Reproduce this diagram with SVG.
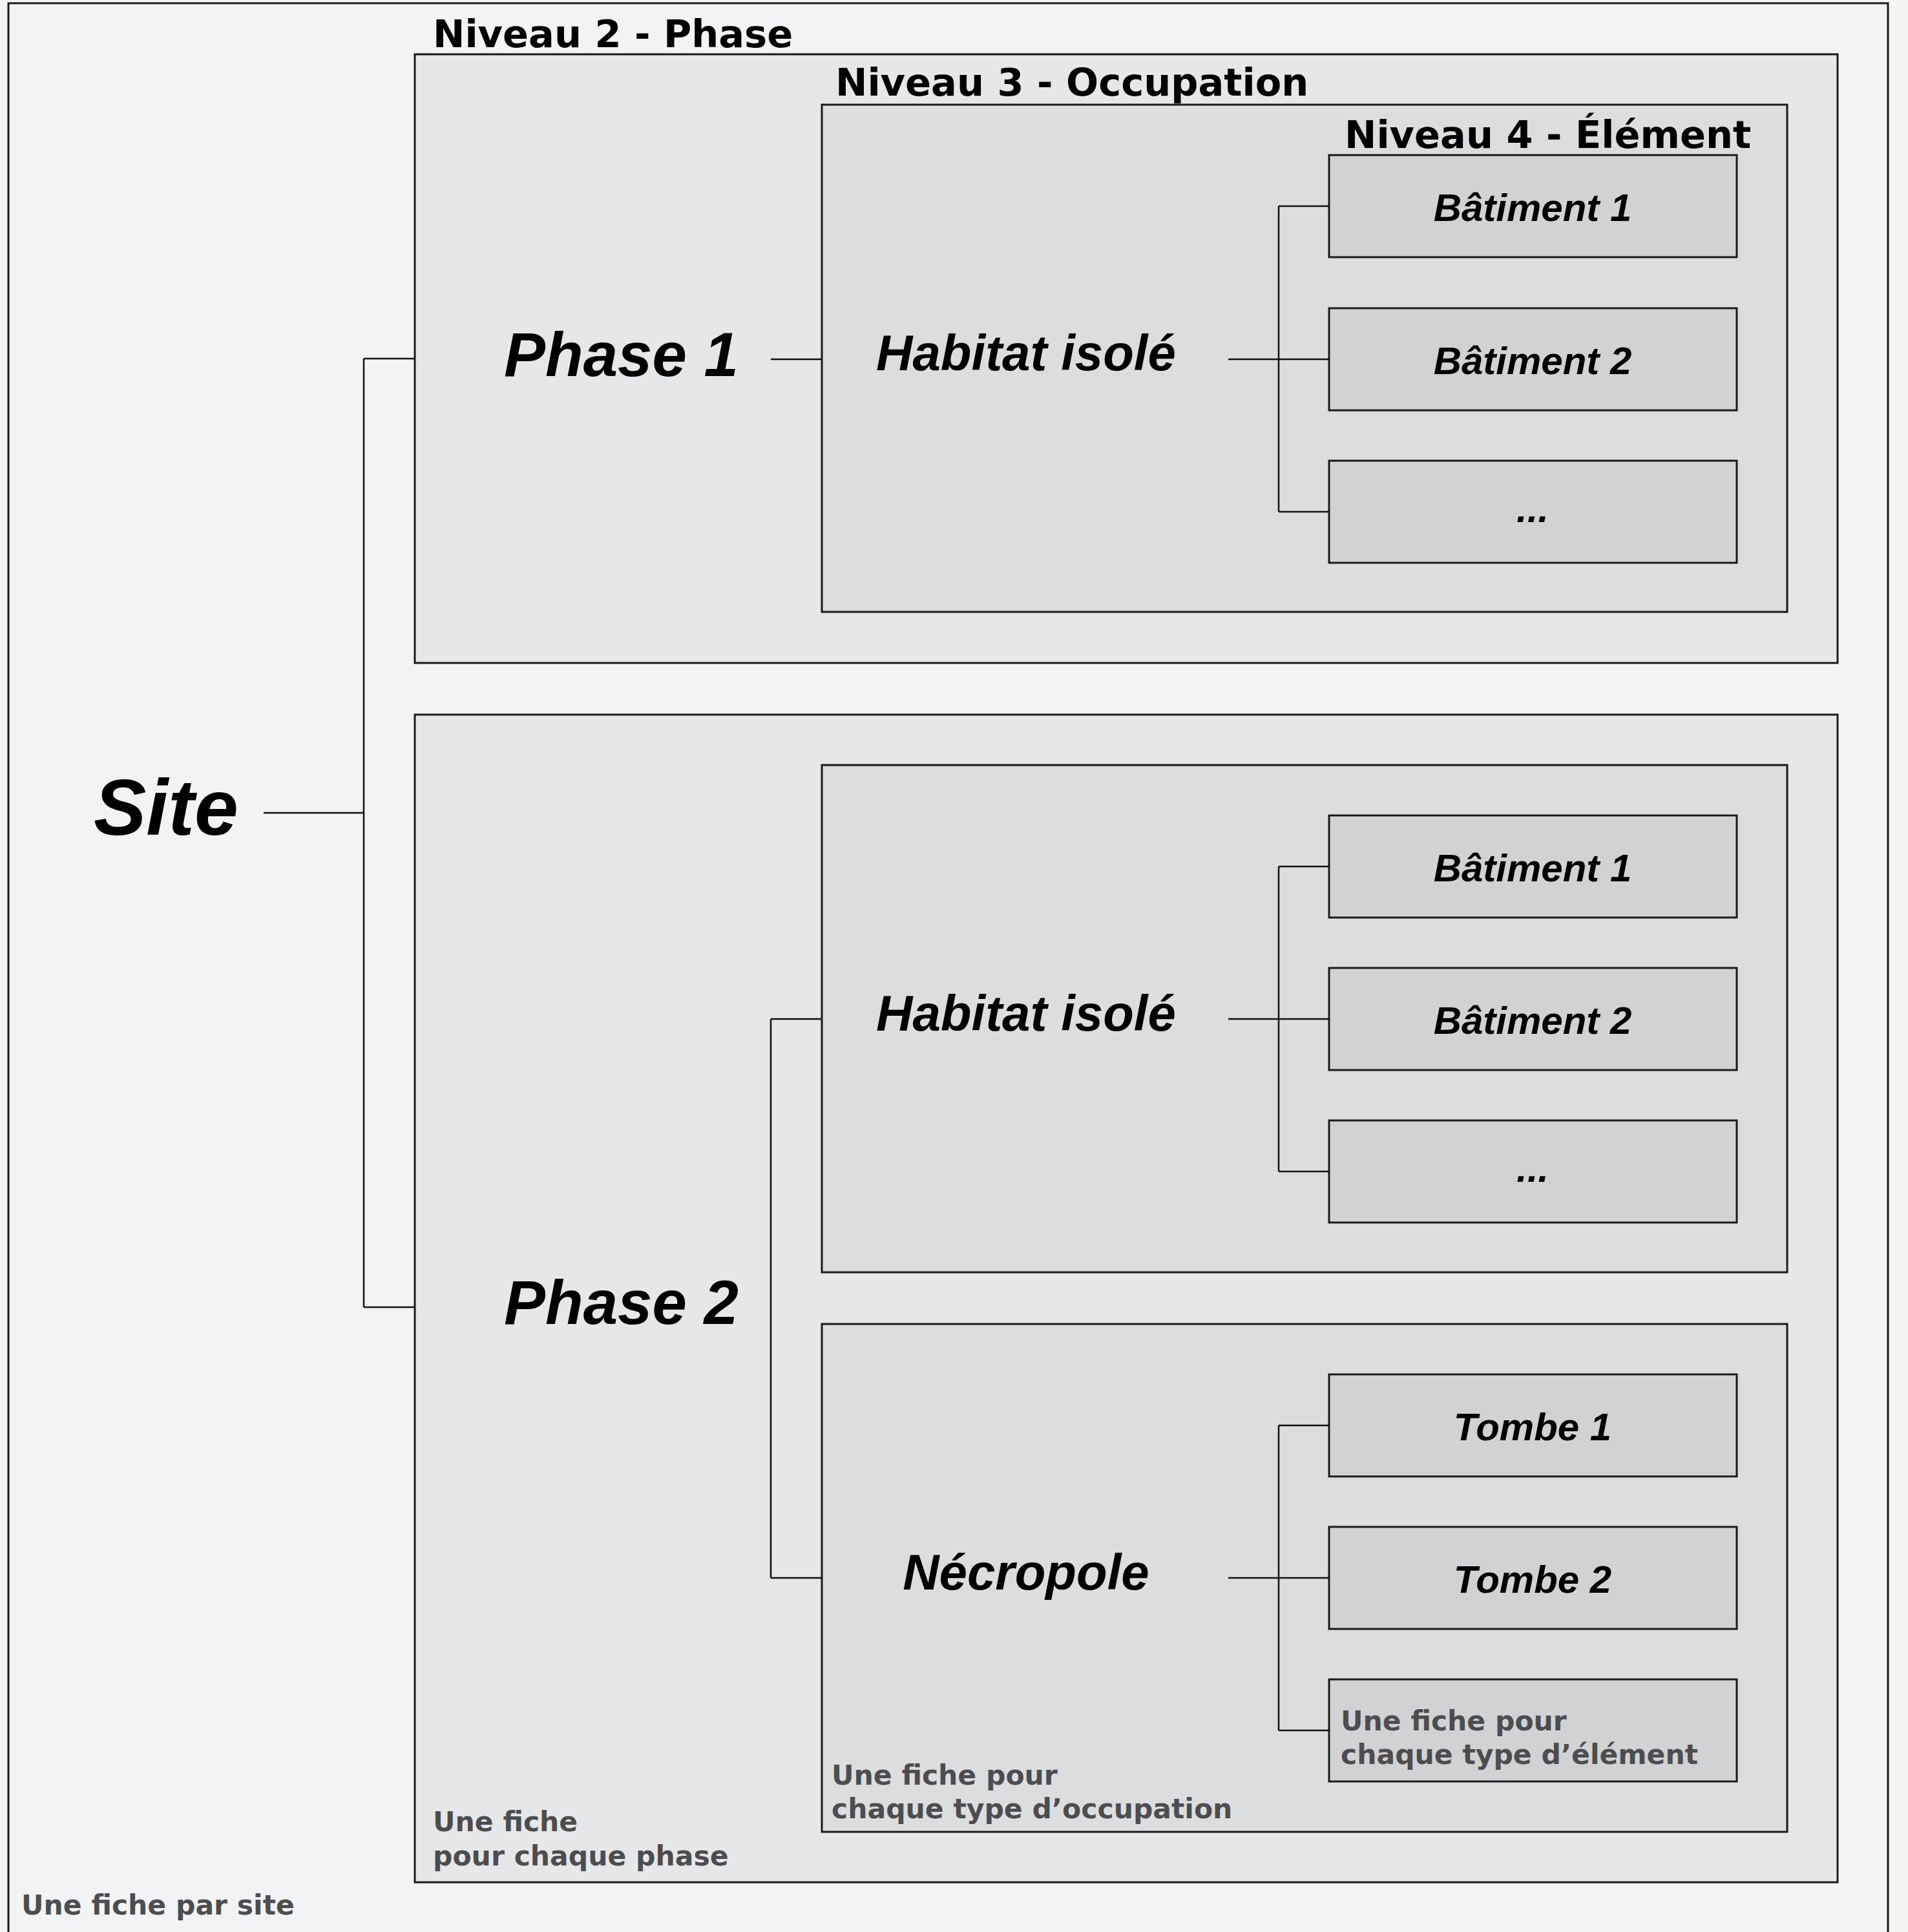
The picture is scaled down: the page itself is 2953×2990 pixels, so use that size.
<svg xmlns="http://www.w3.org/2000/svg" width="2953" height="2990" viewBox="0 0 2953 2990">
<style>
.frame{fill:#f2f3f5;stroke:#1a1a1a;stroke-width:3}
.phase{fill:#e6e7e9;stroke:#1a1a1a;stroke-width:3}
.occ{fill:#dcdddf;stroke:#1a1a1a;stroke-width:3}
.el{fill:#d1d2d4;stroke:#1a1a1a;stroke-width:3}
.conn{fill:none;stroke:#111;stroke-width:2.5}
.lvl{font-family:"DejaVu Sans",sans-serif;font-weight:bold;font-size:59px;fill:#000}
.note{font-family:"DejaVu Sans",sans-serif;font-weight:bold;font-size:42.5px;fill:#4d4d4f}
.big{font-family:"Liberation Sans",Arial,sans-serif;font-weight:bold;font-style:italic;fill:#000}
.elt{font-family:"Liberation Sans",Arial,sans-serif;font-weight:bold;font-style:italic;font-size:60px;fill:#000;text-anchor:middle}
</style>
<rect x="0" y="0" width="2953" height="2990" fill="#f3f6f1"/>
<g id="site">
<rect class="frame" x="13" y="5" width="2909" height="3000"/>
<text class="big" x="145" y="1292" font-size="122">Site</text>
<text class="note" x="33" y="2963">Une fiche par site</text>
</g>
<g id="phase1">
<rect class="phase" x="642" y="84" width="2202" height="942"/>
<text class="lvl" x="670" y="73">Niveau 2 - Phase</text>
<text class="big" x="780" y="582" font-size="96">Phase 1</text>
</g>
<g id="phase2">
<rect class="phase" x="642" y="1106" width="2202" height="1807"/>
<text class="big" x="780" y="2049" font-size="96">Phase 2</text>
<text class="note" x="670" y="2834">Une fiche</text>
<text class="note" x="670" y="2887">pour chaque phase</text>
</g>
<g id="occ1">
<rect class="occ" x="1272" y="162" width="1494" height="785"/>
<text class="lvl" x="1293" y="148">Niveau 3 - Occupation</text>
<text class="big" x="1588" y="573" font-size="78" text-anchor="middle">Habitat isolé</text>
</g>
<g id="occ2a">
<rect class="occ" x="1272" y="1184" width="1494" height="785"/>
<text class="big" x="1588" y="1595" font-size="78" text-anchor="middle">Habitat isolé</text>
</g>
<g id="occ2b">
<rect class="occ" x="1272" y="2049" width="1494" height="786"/>
<text class="big" x="1588" y="2460" font-size="78" text-anchor="middle">Nécropole</text>
<text class="note" x="1287" y="2762">Une fiche pour</text>
<text class="note" x="1287" y="2814">chaque type d’occupation</text>
</g>
<text class="lvl" x="2081" y="229">Niveau 4 - Élément</text>
<g id="el1a"><rect class="el" x="2057" y="240" width="631" height="158"/><text class="elt" x="2372" y="342">Bâtiment 1</text></g>
<g id="el1b"><rect class="el" x="2057" y="477" width="631" height="158"/><text class="elt" x="2372" y="579">Bâtiment 2</text></g>
<g id="el1c"><rect class="el" x="2057" y="713" width="631" height="158"/><text class="elt" x="2372" y="808">...</text></g>
<g id="el2a"><rect class="el" x="2057" y="1262" width="631" height="158"/><text class="elt" x="2372" y="1364">Bâtiment 1</text></g>
<g id="el2b"><rect class="el" x="2057" y="1498" width="631" height="158"/><text class="elt" x="2372" y="1600">Bâtiment 2</text></g>
<g id="el2c"><rect class="el" x="2057" y="1734" width="631" height="158"/><text class="elt" x="2372" y="1829">...</text></g>
<g id="el3a"><rect class="el" x="2057" y="2127" width="631" height="158"/><text class="elt" x="2372" y="2229">Tombe 1</text></g>
<g id="el3b"><rect class="el" x="2057" y="2363" width="631" height="158"/><text class="elt" x="2372" y="2465">Tombe 2</text></g>
<g id="el3c"><rect class="el" x="2057" y="2599" width="631" height="158"/><text class="note" x="2075" y="2678">Une fiche pour</text><text class="note" x="2075" y="2730">chaque type d’élément</text></g>
<g id="connectors">
<path class="conn" d="M408 1258H563M563 555V2023M563 555H642M563 2023H642"/>
<path class="conn" d="M1193 556H1272"/>
<path class="conn" d="M1193 1577V2442M1193 1577H1272M1193 2442H1272"/>
<path class="conn" d="M1901 556H2057M1979 319V792M1979 319H2057M1979 792H2057"/>
<path class="conn" d="M1901 1577H2057M1979 1341V1813M1979 1341H2057M1979 1813H2057"/>
<path class="conn" d="M1901 2442H2057M1979 2206V2678M1979 2206H2057M1979 2678H2057"/>
</g>
</svg>
